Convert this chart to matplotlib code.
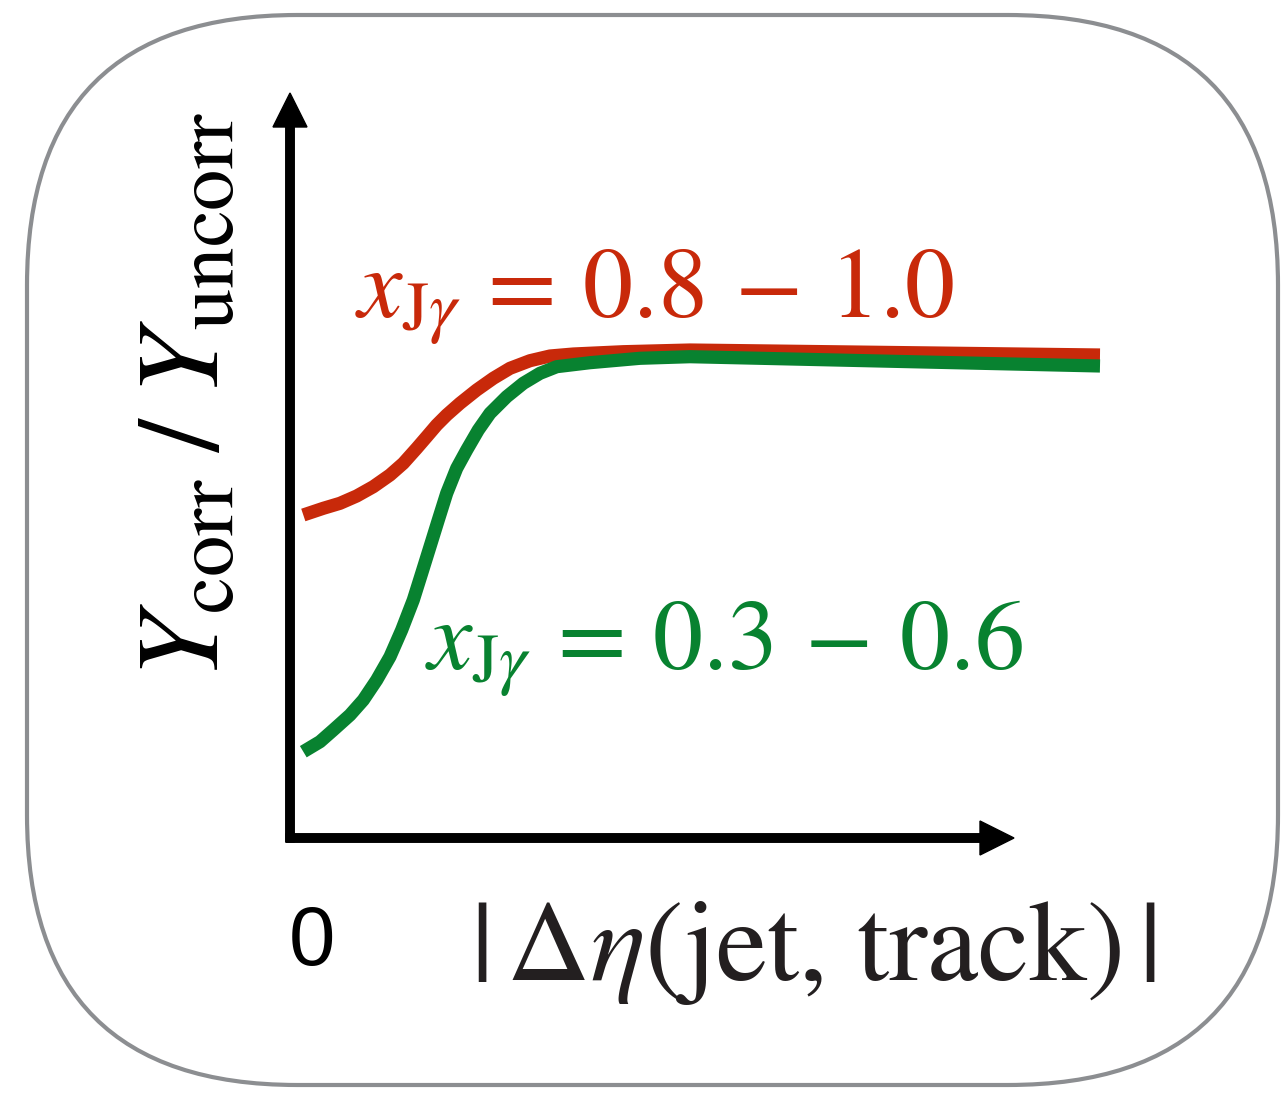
import matplotlib
matplotlib.use('Agg')
import matplotlib.pyplot as plt
from matplotlib.patches import FancyBboxPatch

plt.rcParams['mathtext.fontset'] = 'stix'
plt.rcParams['font.family'] = 'STIXGeneral'

# schematic curves (1 unit = 100 px, origin at the axes corner)
red_x = [0.133, 0.333, 0.5, 0.667, 0.833, 1.0, 1.133, 1.267, 1.367, 1.467, 1.567,
         1.7, 1.867, 2.033, 2.2, 2.4, 2.6, 2.833, 3.333, 4.0, 8.1]
red_y = [3.23, 3.297, 3.347, 3.42, 3.513, 3.63, 3.747, 3.897, 4.013, 4.13, 4.23,
         4.347, 4.48, 4.597, 4.697, 4.773, 4.82, 4.84, 4.863, 4.88, 4.83]
green_x = [0.133, 0.3, 0.433, 0.6, 0.733, 0.867, 1.0, 1.117, 1.233, 1.317, 1.4, 1.483,
           1.567, 1.667, 1.767, 1.883, 2.0, 2.167, 2.333, 2.5, 2.667, 3.0, 3.5, 4.0, 8.1]
green_y = [0.863, 0.963, 1.08, 1.23, 1.38, 1.58, 1.813, 2.08, 2.38, 2.647, 2.913, 3.18,
           3.447, 3.697, 3.88, 4.08, 4.247, 4.413, 4.547, 4.647, 4.713, 4.753, 4.797,
           4.813, 4.72]

red_label = r'$x_{\mathrm{J}\gamma}\,=\,0.8\,-\,1.0$'
green_label = r'$x_{\mathrm{J}\gamma}\,=\,0.3\,-\,0.6$'
xlabel = r'$|\,\Delta\eta($jet, track$)\,|$'
ylabel = r'$Y_{\mathrm{corr}}\;/\;Y_{\mathrm{uncorr}}$'

RED = '#c8290a'
GREEN = '#088230'

fig = plt.figure(figsize=(12.81, 10.95), dpi=100)
ax = fig.add_axes([0, 0, 1, 1])
ax.set_xlim(-2.90, 9.91)
ax.set_ylim(-2.57, 8.38)
ax.axis('off')

# rounded frame
box = FancyBboxPatch((-2.63, -2.47), 12.51, 10.70,
                     boxstyle='round,pad=0,rounding_size=2.7',
                     fc='none', ec='#8c8e91', lw=3)
ax.add_patch(box)

# axes arrows
ax.arrow(0, -0.04, 0, 7.49, width=0.085, head_width=0.34, head_length=0.34,
         length_includes_head=True, color='black')
ax.arrow(-0.04, 0, 7.28, 0, width=0.085, head_width=0.34, head_length=0.34,
         length_includes_head=True, color='black')

ax.plot(red_x, red_y, color=RED, lw=9.5, solid_capstyle='butt', solid_joinstyle='round')
ax.plot(green_x, green_y, color=GREEN, lw=9.5, solid_capstyle='butt', solid_joinstyle='round')

ax.text(0.65, 5.20, red_label, color=RED, fontsize=72, ha='left', va='baseline')
ax.text(1.35, 1.68, green_label, color=GREEN, fontsize=72, ha='left', va='baseline')

ax.text(0.22, -1.27, '0', family='Liberation Sans', fontsize=60, color='black',
        ha='center', va='baseline')
ax.text(1.80, -1.42, xlabel, fontsize=83, color='#231f20', ha='left', va='baseline')
ax.text(-0.72, 4.43, ylabel, fontsize=85, color='black', rotation=90,
        rotation_mode='anchor', ha='center', va='baseline')

# panel letter cut off at the bottom edge
ax.text(-1.67, -2.49, 'c', family='DejaVu Sans', fontweight='bold', fontsize=60,
        color='black', ha='center', va='top')

fig.savefig('out.png', dpi=100)
